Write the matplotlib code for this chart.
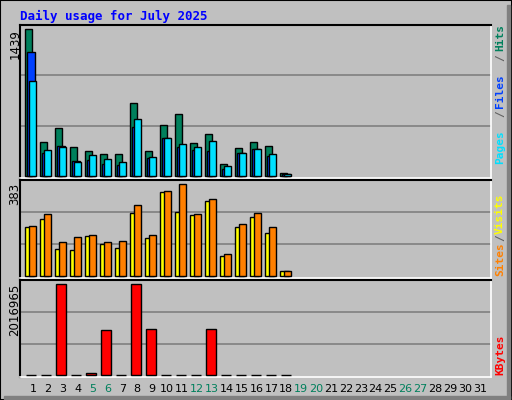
import matplotlib
matplotlib.use("Agg")
import matplotlib.pyplot as plt
import numpy as np

days = list(range(1, 32))
hits  = [1439,330,467,281,242,212,212,712,242,496,604,320,408,114,271,330,291,26]
files = [1211,222,291,144,154,114,105,477,173,369,281,252,242,65,222,261,193,16]
pages = [927,252,281,134,203,163,134,555,183,369,310,281,340,95,222,261,212,16]
sites = [196,227,108,104,160,128,112,251,152,335,255,243,299,80,196,235,172,20]
visits= [200,247,136,156,164,136,140,283,164,339,367,247,307,88,207,251,196,20]
kbytes= [8000,8000,2016965,8000,44000,997000,8000,2016965,1020000,8000,8000,8000,1020000,8000,8000,8000,8000,8000]
weekend = [5,6,12,13,19,20,26,27]
title = "Daily usage for July 2025"

W, H = 512, 400
fig = plt.figure(figsize=(W/100, H/100), dpi=100, facecolor="#C0C0C0")
mono = "DejaVu Sans Mono"
fig.patches.append(plt.Rectangle((0, 0), 1, 1, transform=fig.transFigure, fill=False, ec="black", lw=1.5))
fig.patches.append(plt.Rectangle((4/W, 1/H), (W-6)/W, 3/H, transform=fig.transFigure, color="#808080"))
fig.patches.append(plt.Rectangle(((W-5)/W, 1/H), 3/W, (H-6)/H, transform=fig.transFigure, color="#808080"))
fig.text(20/W, 1-16/H, title, color="#0000FF", fontsize=9, fontweight="bold", family=mono, va="center")

x0, x1 = 20, 491
xl = (1-13/15, 1+(x1-33)/15)

def mkax(top, bot):
    ax = fig.add_axes([x0/W, 1-bot/H, (x1-x0)/W, (bot-top)/H])
    ax.set_facecolor("#C0C0C0")
    ax.set_xlim(*xl)
    ax.set_xticks([]); ax.set_yticks([])
    for s in ("top", "left"):
        ax.spines[s].set_color("black"); ax.spines[s].set_linewidth(1.5)
    for s in ("bottom", "right"):
        ax.spines[s].set_color("white"); ax.spines[s].set_linewidth(1.2)
    return ax

d = np.arange(1, len(hits)+1)
kw = dict(align="edge", edgecolor="black", linewidth=1, zorder=3)

ax1 = mkax(25, 178)
ymax1 = 1439*151/147
ax1.set_ylim(-1439*2/147, ymax1)
for g in (1/3, 2/3):
    ax1.axhline(ymax1*g, color="#808080", lw=1.2, zorder=1)
ax1.bar(d-0.51, hits, 0.47, color="#00805C", **kw)
ax1.bar(d-0.38, files, 0.49, color="#0040FF", **kw)
ax1.bar(d-0.25, pages, 0.47, color="#00E0FF", **kw)
fig.text(15/W, 1-29/H, str(max(hits)), rotation=90, ha="center", va="top", fontsize=8.5)

ax2 = mkax(180, 278)
ymax2 = 383
ax2.set_ylim(-383*1.7/96, ymax2)
for g in (1/3, 2/3):
    ax2.axhline(ymax2*g, color="#808080", lw=1.2, zorder=1)
ax2.bar(d-0.51, sites, 0.55, color="#FFFF00", **kw)
ax2.bar(d-0.25, visits, 0.47, color="#FF8000", **kw)
fig.text(15/W, 1-183/H, "383", rotation=90, ha="center", va="top", fontsize=8.5)

ax3 = mkax(280, 377)
sc = 2016965/91
ymax3 = 95.3*sc
ax3.set_ylim(-1.7*sc, ymax3)
for g in (1/3, 2/3):
    ax3.axhline(ymax3*g, color="#808080", lw=1.2, zorder=1)
ax3.bar(d-0.47, kbytes, 0.69, color="#FF0000", **kw)
fig.text(15/W, 1-284/H, str(max(kbytes)), rotation=90, ha="center", va="top", fontsize=8.5)

for day in days:
    px = 33 + (day-1)*14.9
    fig.text(px/W, 1-389/H, str(day), ha="center", va="center", fontsize=8,
             color="#00805C" if day in weekend else "black")

def vlabel_bottom(ybot, parts, cw=6.7):
    y = ybot
    for txt, col in parts:
        fig.text(500/W, 1-y/H, txt, rotation=90, ha="center", va="bottom", color=col,
                 fontsize=8, family=mono, fontweight="bold")
        y -= len(txt)*cw

sl = "#606060"
vlabel_bottom(164, [("Pages", "#00E0FF"), ("/", sl), ("Files", "#0040FF"), ("/", sl), ("Hits", "#00805C")], cw=9.4)
vlabel_bottom(276, [("Sites", "#FF8000"), ("/", sl), ("Visits", "#FFFF00")], cw=7.0)
vlabel_bottom(375, [("KBytes", "#FF0000")])

fig.savefig("out.png", dpi=100, facecolor=fig.get_facecolor())
